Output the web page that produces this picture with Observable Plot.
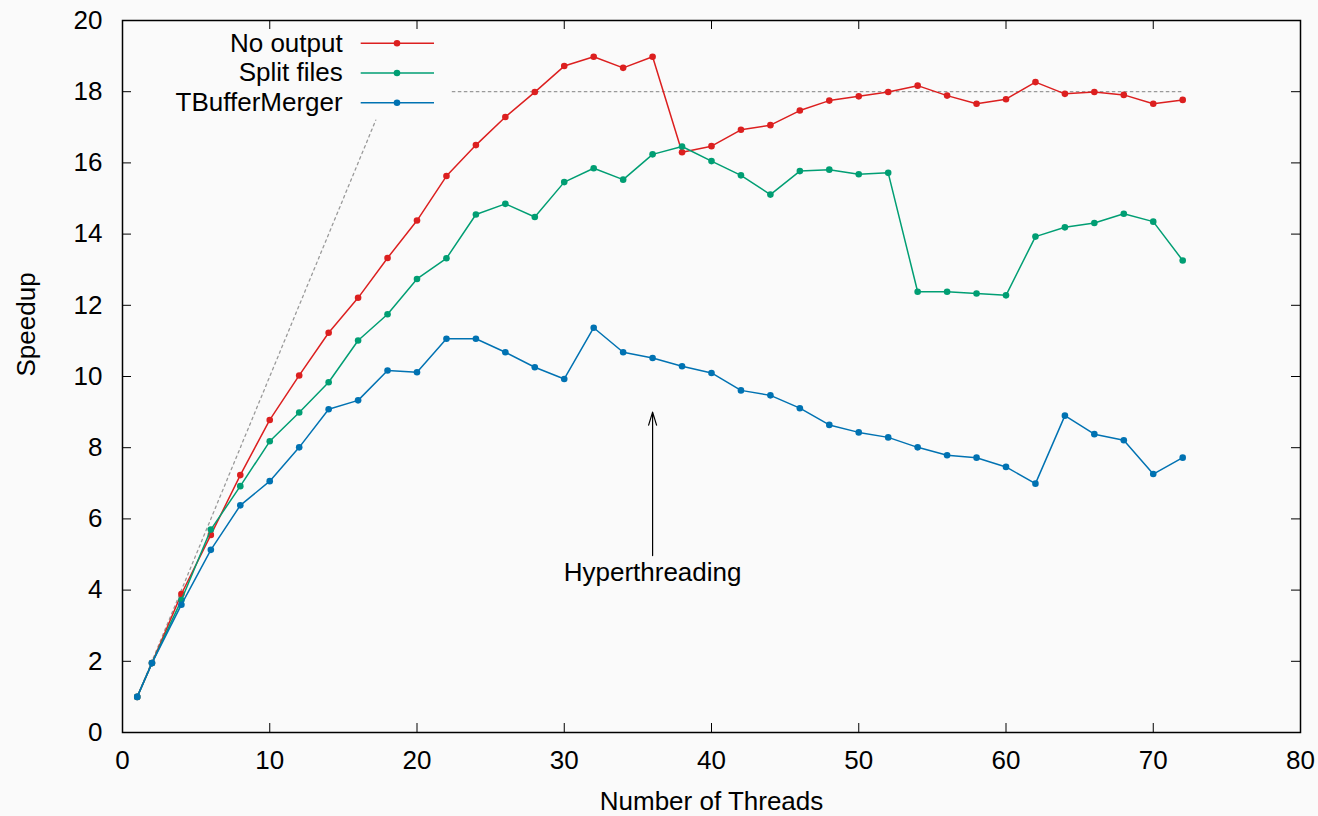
<!DOCTYPE html>
<html><head><meta charset="utf-8">
<script src="https://cdn.jsdelivr.net/npm/d3@7"></script>
<script src="https://cdn.jsdelivr.net/npm/@observablehq/plot@0.6"></script>
<style>html,body{margin:0;padding:0;background:#fafafa;overflow:hidden}</style>
</head><body><div id="chart"></div>
<script>
const threads = [1,2,4,6,8,10,12,14,16,18,20,22,24,26,28,30,32,34,36,38,40,42,44,46,48,50,52,54,56,58,60,62,64,66,68,70,72];
const noOutput = [1.0,1.95,3.89,5.55,7.23,8.78,10.03,11.23,12.21,13.33,14.38,15.63,16.50,17.29,17.99,18.72,18.98,18.67,18.98,16.30,16.47,16.93,17.06,17.47,17.75,17.87,17.99,18.17,17.89,17.66,17.79,18.27,17.94,17.99,17.91,17.66,17.77];
const splitFiles = [1.0,1.95,3.72,5.70,6.92,8.18,8.99,9.84,11.01,11.75,12.74,13.32,14.55,14.85,14.48,15.46,15.85,15.53,16.24,16.46,16.05,15.65,15.11,15.77,15.81,15.68,15.72,12.38,12.38,12.33,12.28,13.93,14.19,14.31,14.57,14.35,13.26];
const tBufferMerger = [1.0,1.95,3.59,5.13,6.38,7.06,8.01,9.08,9.33,10.17,10.12,11.06,11.06,10.68,10.26,9.93,11.37,10.68,10.52,10.29,10.10,9.61,9.47,9.11,8.64,8.43,8.29,8.01,7.79,7.72,7.46,6.99,8.90,8.38,8.21,7.26,7.72];
const seriesNames = ["No output", "Split files", "TBufferMerger"];
const seriesColors = ["#dc1f1f", "#009e73", "#0072b2"];
const xTicks = [0,10,20,30,40,50,60,70,80];
const yTicks = [0,2,4,6,8,10,12,14,16,18,20];
const idealLine = [{x:1, y:1}, {x:17.2, y:17.2}];
const plateauLine = [{x:22.4, y:18}, {x:72, y:18}];
const arrowAnno = [{x1:36, y1:4.97, x2:36, y2:9.0}];
const annoText = [{x:36, y:4.5, text:"Hyperthreading"}];

const seriesValues = [noOutput, splitFiles, tBufferMerger];
const rows = seriesNames.map((s, i) => threads.map((t, j) => ({series: s, threads: t, speedup: seriesValues[i][j]})));

const W = 1318, H = 816, mL = 122, mR = 18, mT = 20, mB = 84;
const innerW = W - mL - mR, innerH = H - mT - mB;
const tick = 9;

function legendMark(index, scales, values, dims) {
  const g = d3.create("svg:g").attr("font-size", 26);
  seriesNames.forEach((name, i) => {
    const y = dims.marginTop + 23.3 + i * 29.7;
    const xr = dims.marginLeft + 220.7;
    g.append("text").attr("x", xr).attr("y", y).attr("dy", "0.32em")
      .attr("text-anchor", "end").attr("fill", "black").text(name);
    g.append("line").attr("x1", xr + 18).attr("x2", xr + 91.3).attr("y1", y).attr("y2", y)
      .attr("stroke", seriesColors[i]).attr("stroke-width", 1.5);
    g.append("circle").attr("cx", xr + 54.3).attr("cy", y).attr("r", 3.3).attr("fill", seriesColors[i]);
  });
  return g.node();
}

const seriesMarks = rows.flatMap((data, i) => [
  Plot.line(data, {x: "threads", y: "speedup", stroke: seriesColors[i], strokeWidth: 1.5}),
  Plot.dot(data, {x: "threads", y: "speedup", fill: seriesColors[i], r: 3.3})
]);

const chart = Plot.plot({
  width: W, height: H,
  marginLeft: mL, marginRight: mR, marginTop: mT, marginBottom: mB,
  style: {fontFamily: "'Liberation Sans', Arial, sans-serif", fontSize: "26px", background: "#fafafa", color: "black"},
  x: {domain: [0, 80]},
  y: {domain: [0, 20]},
  marks: [
    Plot.line(idealLine, {x: "x", y: "y", stroke: "#9a9a9a", strokeWidth: 1.3, strokeDasharray: "2.5,3.5"}),
    Plot.line(plateauLine, {x: "x", y: "y", stroke: "#9a9a9a", strokeWidth: 1.3, strokeDasharray: "2.5,3.5"}),
    ...seriesMarks,
    Plot.arrow(arrowAnno, {x1: "x1", y1: "y1", x2: "x2", y2: "y2", stroke: "black", strokeWidth: 1.2, headLength: 17, headAngle: 34}),
    Plot.text(annoText, {x: "x", y: "y", text: "text", lineAnchor: "middle", fill: "black"}),
    Plot.tickX(xTicks, {x: d => d, insetTop: innerH - tick, stroke: "black"}),
    Plot.tickX(xTicks, {x: d => d, insetBottom: innerH - tick, stroke: "black"}),
    Plot.tickY(yTicks, {y: d => d, insetRight: innerW - tick, stroke: "black"}),
    Plot.tickY(yTicks, {y: d => d, insetLeft: innerW - tick, stroke: "black"}),
    Plot.axisX({ticks: xTicks, tickSize: 0, tickPadding: 18.5, label: null}),
    Plot.axisY({ticks: yTicks, tickSize: 0, tickPadding: 20, label: null}),
    Plot.frame({stroke: "black", strokeWidth: 1.5}),
    Plot.text(["Number of Threads"], {frameAnchor: "bottom", dy: 69.5, lineAnchor: "middle", fill: "black"}),
    Plot.text(["Speedup"], {frameAnchor: "left", dx: -96, rotate: -90, lineAnchor: "middle", fill: "black"}),
    legendMark
  ]
});
document.getElementById("chart").appendChild(chart);
</script>
</body></html>
